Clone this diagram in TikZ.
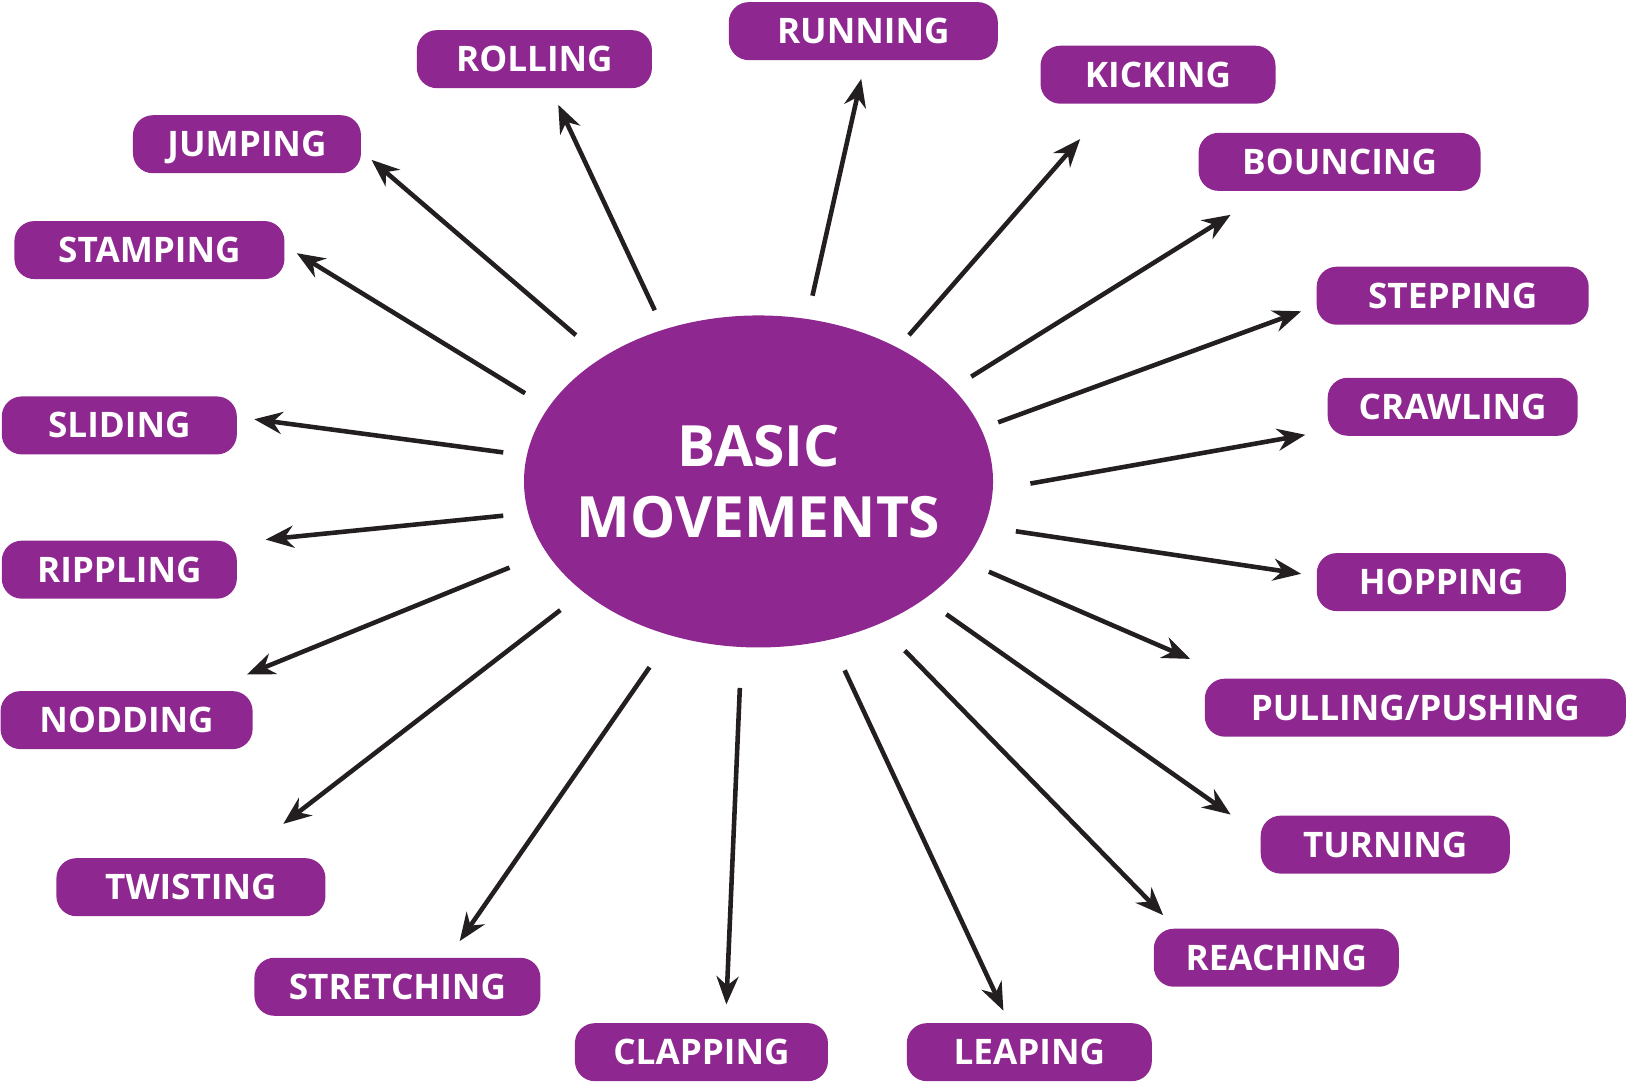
\documentclass[tikz,border=0pt]{standalone}
\usepackage{fontspec}
\setmainfont{Open Sans}
\usetikzlibrary{arrows.meta,shapes.geometric}
\definecolor{movepurple}{HTML}{8E278F}
\definecolor{arrowblack}{HTML}{231F20}
\tikzset{
	move/.style={fill=movepurple, text=white, rounded corners=0.2cm, minimum height=0.58cm, inner sep=0pt, text height=7.1pt, text depth=0pt, font=\fontsize{10}{12}\selectfont\bfseries},
	hub/.style={ellipse, fill=movepurple, minimum width=4.69cm, minimum height=3.32cm, inner sep=0pt},
	hubtext/.style={text=white, inner sep=0pt, align=center, font=\fontsize{16.2}{20.2}\selectfont\bfseries},
	arr/.style={-{Stealth[length=2.8mm,width=2.2mm]}, draw=arrowblack, line width=1.3pt}
}
\begin{document}
\begin{tikzpicture}[x=0.010376cm,y=-0.010376cm]
		\useasboundingbox (0,0) rectangle (1568,1042);
			\node[hub] (hub) at (731,464) {};
			\node[hubtext] (hubtext) at (hub.center) {BASIC\\MOVEMENTS};
			% top
			\node[move,minimum width=2.35cm] (rolling) at (515,57) {ROLLING};
			\node[move,minimum width=2.69cm] (running) at (832,30) {RUNNING};
			\node[move,minimum width=2.35cm] (kicking) at (1116,72) {KICKING};
			% left
			\node[move,minimum width=2.28cm] (jumping) at (238,139) {JUMPING};
			\node[move,minimum width=2.70cm] (stamping) at (144,241) {STAMPING};
			\node[move,minimum width=2.35cm] (sliding) at (115,410) {SLIDING};
			\node[move,minimum width=2.35cm] (rippling) at (115,549) {RIPPLING};
			\node[move,minimum width=2.52cm] (nodding) at (122,694) {NODDING};
			\node[move,minimum width=2.69cm] (twisting) at (184,855) {TWISTING};
			\node[move,minimum width=2.86cm] (stretching) at (383,951) {STRETCHING};
			% right
			\node[move,minimum width=2.82cm] (bouncing) at (1291,156) {BOUNCING};
			\node[move,minimum width=2.72cm] (stepping) at (1400,285) {STEPPING};
			\node[move,minimum width=2.50cm] (crawling) at (1400,392) {CRAWLING};
			\node[move,minimum width=2.49cm] (hopping) at (1389,561) {HOPPING};
			\node[move,minimum width=4.21cm] (pulling) at (1364,682) {PULLING/PUSHING};
			\node[move,minimum width=2.49cm] (turning) at (1335,814) {TURNING};
			\node[move,minimum width=2.45cm] (reaching) at (1230,923) {REACHING};
			% bottom
			\node[move,minimum width=2.53cm] (clapping) at (676,1014) {CLAPPING};
			\node[move,minimum width=2.45cm] (leaping) at (992,1014) {LEAPING};
			% arrows
			\foreach \nm/\ax/\ay/\bx/\by in {rolling/631/299/538/101, running/783/285/830/76, kicking/876/323/1041/134,
				jumping/555/323/358/154, bouncing/936/363/1186/207, stamping/506/379/286/244,
				stepping/962/407/1254/300, sliding/485/436/245/404, crawling/993/466/1258/419,
				rippling/485/497/256/520, hopping/979/512/1254/553, nodding/491/547/238/650,
				pulling/953/551/1147/635, twisting/540/588/273/794, turning/912/592/1186/785,
				stretching/626/643/443/907, reaching/872/627/1121/882, clapping/713/663/700/968,
				leaping/814/646/967/974}{
				\coordinate (\nm-from) at (\ax,\ay);
				\coordinate (\nm-to) at (\bx,\by);
				\draw[arr] (\nm-from) -- (\nm-to);
			}
	\end{tikzpicture}
\end{document}
